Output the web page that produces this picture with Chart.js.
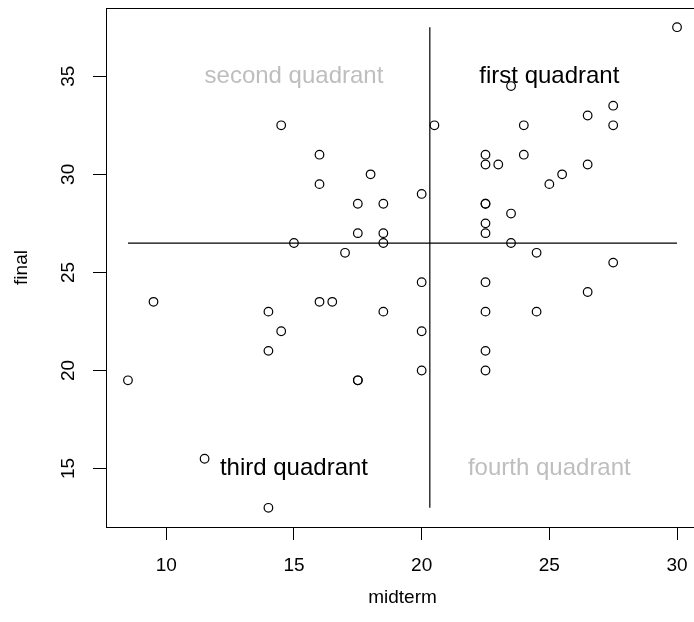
<!DOCTYPE html>
<html>
<head>
<meta charset="utf-8">
<script src="https://cdn.jsdelivr.net/npm/chart.js@4"></script>
<style>
  html, body { margin: 0; padding: 0; background: #fff; overflow: hidden; }
  #wrap { width: 706px; height: 622px; }
</style>
</head>
<body>
<div id="wrap"><canvas id="chart" width="706" height="622"></canvas></div>
<script>
// midterm vs final scores, split into quadrants by the two means
const midterm = [
  14.5, 16, 16, 18, 17.5, 18.5, 17.5, 18.5, 18.5, 15, 17,
  30, 23.5, 27.5, 26.5, 27.5, 20.5, 24, 22.5, 24, 22.5, 23, 26.5, 25.5, 25, 20,
  22.5, 22.5, 23.5, 22.5, 22.5, 23.5, 24.5, 27.5,
  9.5, 14, 14.5, 14, 16, 16.5, 18.5, 8.5, 17.5, 17.5, 11.5, 14,
  20, 22.5, 26.5, 22.5, 24.5, 20, 22.5, 20, 22.5
];
const final = [
  32.5, 31, 29.5, 30, 28.5, 28.5, 27, 27, 26.5, 26.5, 26,
  37.5, 34.5, 33.5, 33, 32.5, 32.5, 32.5, 31, 31, 30.5, 30.5, 30.5, 30, 29.5, 29,
  28.5, 28.5, 28, 27.5, 27, 26.5, 26, 25.5,
  23.5, 23, 22, 21, 23.5, 23.5, 23, 19.5, 19.5, 19.5, 15.5, 13,
  24.5, 24.5, 24, 23, 23, 22, 21, 20, 20
];

// mean lines and the data extents they span
const meanMidterm = 20.32;
const meanFinal = 26.49;
const midRange = [8.5, 30];
const finalRange = [13, 37.5];

const xTicks = [10, 15, 20, 25, 30];
const yTicks = [15, 20, 25, 30, 35];

const quadLabels = ['first quadrant', 'second quadrant', 'third quadrant', 'fourth quadrant'];
const quadX = [25, 15, 15, 25];
const quadY = [35, 35, 15, 15];
const quadColors = ['#000000', '#bebebe', '#000000', '#bebebe'];

Chart.defaults.font.family = '"Liberation Sans", Arial, Helvetica, sans-serif';
Chart.defaults.color = '#000';

// R-like range: data extent padded by 4%
function padRange(lo, hi) {
  const d = (hi - lo) * 0.04;
  return [lo - d, hi + d];
}
const xLim = padRange(midRange[0], midRange[1]);
const yLim = padRange(finalRange[0], finalRange[1]);

const boxAndText = {
  id: 'boxAndText',
  afterDatasetsDraw(chart) {
    const { ctx, chartArea: a, scales } = chart;
    ctx.save();
    ctx.strokeStyle = '#000';
    ctx.lineWidth = 1;
    ctx.strokeRect(a.left + 0.5, a.top + 0.5, a.right - a.left, a.bottom - a.top);
    ctx.font = '24px "Liberation Sans", Arial, sans-serif';
    ctx.textAlign = 'center';
    ctx.textBaseline = 'middle';
    quadLabels.forEach((t, i) => {
      ctx.fillStyle = quadColors[i];
      ctx.fillText(t, scales.x.getPixelForValue(quadX[i]), scales.y.getPixelForValue(quadY[i]));
    });
    ctx.restore();
  }
};

const ctx = document.getElementById('chart').getContext('2d');
new Chart(ctx, {
  type: 'scatter',
  data: {
    datasets: [
      {
        data: midterm.map((m, i) => ({ x: m, y: final[i] })),
        pointStyle: 'circle',
        pointRadius: 4.3,
        pointBorderWidth: 1.2,
        pointBorderColor: '#000',
        pointBackgroundColor: 'rgba(0,0,0,0)',
        showLine: false
      },
      {
        data: [{ x: meanMidterm, y: finalRange[0] }, { x: meanMidterm, y: finalRange[1] }],
        showLine: true, borderColor: '#000', borderWidth: 1.2, pointRadius: 0
      },
      {
        data: [{ x: midRange[0], y: meanFinal }, { x: midRange[1], y: meanFinal }],
        showLine: true, borderColor: '#000', borderWidth: 1.2, pointRadius: 0
      }
    ]
  },
  options: {
    responsive: false,
    animation: false,
    devicePixelRatio: 1,
    layout: { padding: { top: 8, right: 7, left: 0, bottom: 0 } },
    plugins: { legend: { display: false }, tooltip: { enabled: false } },
    scales: {
      x: {
        type: 'linear',
        min: xLim[0],
        max: xLim[1],
        afterBuildTicks: s => { s.ticks = xTicks.map(v => ({ value: v })); },
        afterFit: s => { s.height = 95; s.paddingLeft = 0; s.paddingRight = 0; },
        ticks: { font: { size: 19, lineHeight: 1.2 }, color: '#000', padding: 14, maxRotation: 0 },
        grid: { drawOnChartArea: false, drawTicks: true, tickLength: 13, color: '#000' },
        border: { display: true, color: '#000' },
        title: { display: true, text: 'midterm', color: '#000', font: { size: 19, lineHeight: 1.2 }, padding: { top: 0, bottom: 12.6 } }
      },
      y: {
        type: 'linear',
        min: yLim[0],
        max: yLim[1],
        afterBuildTicks: s => { s.ticks = yTicks.map(v => ({ value: v })); },
        afterFit: s => { s.width = 106; s.paddingTop = 0; s.paddingBottom = 0; },
        ticks: { font: { size: 19, lineHeight: 1.2 }, color: '#000', padding: 13.5, minRotation: 90, maxRotation: 90, crossAlign: 'center' },
        grid: { drawOnChartArea: false, drawTicks: true, tickLength: 13, color: '#000' },
        border: { display: true, color: '#000' },
        title: { display: true, text: 'final', color: '#000', font: { size: 19, lineHeight: 1.2 }, padding: { top: 10.6, bottom: 0 } }
      }
    }
  },
  plugins: [boxAndText]
});
</script>
</body>
</html>
